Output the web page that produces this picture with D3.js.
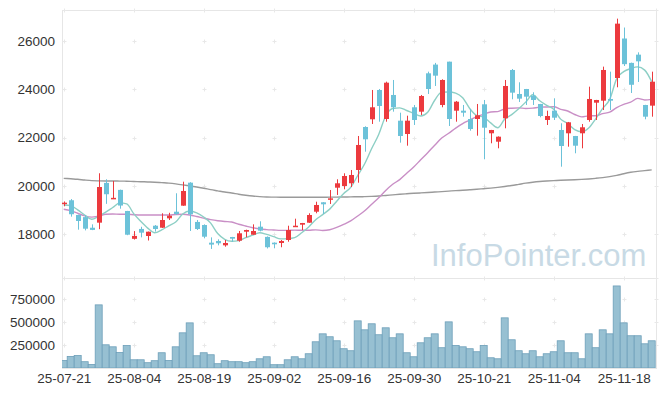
<!DOCTYPE html>
<html>
<head>
<meta charset="utf-8">
<script src="https://cdn.jsdelivr.net/npm/d3@7"></script>
<style>
  body { margin: 0; background: #fff; }
  svg { display: block; font-family: "Liberation Sans", Arial, sans-serif; }
</style>
</head>
<body>
<div id="chart"></div>
<script>
// daily candles, 25-07-21 .. 25-11-24 (85 trading days)
var opens = [19250,19400,18790,18700,18260,18470,20120,19470,19830,18955,
  17800,18210,17917,18344,18261,18650,18925,19175,20130,18500,
  18373,17640,17710,17530,17875,17722,18095,17970,18303,17880,
  17640,17627,17751,18303,18386,18469,18925,19316,19440,19921,
  19992,20104,20656,22440,22760,23976,22772,23769,22702,22150,
  23258,23076,24668,25030,23354,25151,23117,23117,22772,22772,
  23382,22179,21830,22801,24806,23810,24017,23740,23395,22731,
  23117,22316,22179,22067,22179,22731,23449,23532,23603,24474,
  26112,25100,25442,23353,23326];
var highs = [19350,19450,18800,18780,18400,20520,20270,20200,19840,18960,
  18120,18300,18100,18373,18860,18880,19690,20170,20150,18580,
  18400,17860,17780,17750,17880,18125,18180,18400,18527,17900,
  17650,17750,18344,18635,18460,18860,19340,19320,19826,20270,
  20519,20656,22067,22470,23976,24017,24321,24391,23034,22910,
  23354,23769,24736,25100,24420,25151,23520,23354,23188,23395,
  23561,22320,22050,24391,24848,24295,24020,23880,23400,23117,
  23631,22594,22650,22070,22565,24113,23565,24945,24736,26936,
  26568,25110,25538,23360,24736];
var lows = [19150,18720,18180,18150,18160,18200,19250,19450,19050,17950,
  17770,17860,17730,18100,18250,18580,18788,19170,18125,18166,
  17820,17380,17530,17473,17680,17680,17863,17965,18110,17400,
  17406,17450,17680,18290,18166,18460,18860,18830,19245,19620,
  19855,19950,20129,21415,22565,22660,22660,23076,21790,21665,
  22524,22939,23810,24142,23258,22481,22660,22868,22287,22080,
  21100,21764,21556,22386,23590,23478,23353,23353,22843,22523,
  22731,20793,21623,21349,21556,22660,22731,23146,23146,24088,
  24971,23852,24309,22760,22868];
var closes = [19300,18820,18540,18220,18170,19950,19650,19500,19180,17970,
  17920,18055,18095,18207,18581,18760,18830,19785,18817,18207,
  17888,17560,17614,17627,17805,18029,18166,18125,18137,17450,
  17573,17710,18166,18344,18456,18788,19204,19232,19480,20104,
  20407,20449,21694,21930,23258,23312,24279,23258,22067,22702,
  22731,23727,24017,24570,24391,22772,23490,23034,22357,22926,
  22411,22316,22038,24142,23865,23616,23699,23561,22897,22897,
  22826,21652,22635,21664,22428,23603,23561,24806,23532,26729,
  25047,24192,25165,22868,24320];
var volumes = [83000,127000,137000,69000,39000,691000,254000,232000,170000,247000,
  90000,90000,58000,80000,167000,83000,232000,385000,494000,134000,
  167000,145000,47000,80000,69000,69000,58000,69000,101000,123000,
  36000,36000,90000,123000,101000,156000,287000,374000,342000,298000,
  211000,189000,516000,418000,484000,364000,440000,331000,374000,167000,
  123000,276000,331000,374000,222000,505000,247000,232000,211000,178000,
  247000,112000,101000,549000,309000,189000,156000,189000,123000,156000,
  178000,298000,167000,167000,101000,374000,222000,418000,374000,898000,
  494000,353000,353000,265000,298000];

// moving averages before enough closes exist inside the window
var ma5Lead = [19204,19175,19000,18790];
var ma20Lead = [19025,18967,18860,18750,18700,18747,18817,18830,18817,18817,
  18800,18790,18790,18790,18790,18790,18810,18817,18790];
// long (120 day) average
var ma120 = [20310,20290,20270,20240,20215,20205,20200,20200,20195,20190,
  20180,20170,20160,20150,20130,20110,20080,20040,19995,19950,
  19900,19840,19790,19740,19700,19650,19610,19575,19550,19535,
  19530,19525,19525,19525,19525,19525,19525,19525,19530,19530,
  19535,19540,19545,19550,19560,19575,19600,19625,19650,19670,
  19690,19705,19720,19740,19760,19780,19800,19815,19835,19855,
  19880,19905,19935,19970,20010,20060,20110,20150,20180,20200,
  20215,20230,20240,20250,20265,20285,20310,20340,20380,20430,
  20500,20560,20600,20630,20660];

var tickIdx = [0,10,20,30,40,50,60,70,80];
var tickLabels = ["25-07-21","25-08-04","25-08-19","25-09-02","25-09-16","25-09-30","25-10-21","25-11-04","25-11-18"];
var priceTicks = [18000,20000,22000,24000,26000];
var volTicks = [250000,500000,750000];

var width = 665, height = 396;
var plotLeft = 62, plotRight = 656, plotTop = 10, priceBottom = 278, volBottom = 368;

var svg = d3.select("#chart").append("svg")
  .attr("width", width)
  .attr("height", height);

var x = d3.scaleLinear().domain([0, 84]).range([63.7, 651.7]);
var y = d3.scaleLinear().domain([16174, 27295]).range([priceBottom, plotTop]);
var yv = d3.scaleLinear().domain([0, 985000]).range([volBottom, priceBottom]);

function movingAvg(n, lead) {
  return closes.map(function(c, i) {
    if (i < n - 1) return lead[i];
    return d3.mean(closes.slice(i - n + 1, i + 1));
  });
}
var ma5 = movingAvg(5, ma5Lead);
var ma20 = movingAvg(20, ma20Lead);

// panel borders
svg.append("rect")
  .attr("x", plotLeft + 0.5).attr("y", plotTop + 0.5)
  .attr("width", plotRight - plotLeft).attr("height", priceBottom - plotTop)
  .attr("fill", "none").attr("stroke", "#e6e6e6");
svg.append("rect")
  .attr("x", plotLeft + 0.5).attr("y", priceBottom + 0.5)
  .attr("width", plotRight - plotLeft).attr("height", volBottom - priceBottom)
  .attr("fill", "none").attr("stroke", "#e6e6e6");

// little + marks where the grid would cross
var crossX = tickIdx.map(function(i) { return x(i); }).concat([plotRight]);
var crossY = [plotTop].concat(priceTicks.map(function(v) { return y(v); }))
  .concat(volTicks.map(function(v) { return yv(v); })).concat([priceBottom]);
var crosses = [];
crossX.forEach(function(cx) { crossY.forEach(function(cy) { crosses.push([cx, cy]); }); });
var cg = svg.append("g").attr("stroke", "#e8e8e8").attr("stroke-width", 1);
cg.selectAll("path").data(crosses).enter().append("path")
  .attr("d", function(d) {
    var cx = Math.round(d[0]) + 0.5, cy = Math.round(d[1]) + 0.5;
    return "M" + (cx - 2) + "," + cy + "H" + (cx + 2) + "M" + cx + "," + (cy - 2) + "V" + (cy + 2);
  });

// watermark
svg.append("text")
  .attr("x", 431).attr("y", 266)
  .attr("fill", "#c8dae5")
  .style("font-size", "31px")
  .text("InfoPointer.com");

svg.append("clipPath").attr("id", "clipVol")
  .append("rect").attr("x", plotLeft).attr("y", priceBottom)
  .attr("width", plotRight - plotLeft).attr("height", volBottom - priceBottom);

// volume bars
svg.append("g").attr("clip-path", "url(#clipVol)")
  .selectAll("rect").data(volumes).enter().append("rect")
  .attr("x", function(d, i) { return x(i) - 3.5; })
  .attr("y", function(d) { return yv(d); })
  .attr("width", 7)
  .attr("height", function(d) { return volBottom - yv(d); })
  .attr("fill", "#97c0d2")
  .attr("stroke", "#6d9fb9")
  .attr("stroke-width", 0.8);

// moving averages
function drawLine(vals, color) {
  var line = d3.line()
    .x(function(d, i) { return x(i); })
    .y(function(d) { return y(d); })
    .curve(d3.curveMonotoneX);
  svg.append("path")
    .datum(vals)
    .attr("d", line)
    .attr("fill", "none")
    .attr("stroke", color)
    .attr("stroke-width", 1.4);
}
drawLine(ma120, "#9a9a9a");
drawLine(ma20, "#c98fc6");
drawLine(ma5, "#8dcfc5");

// candles
var up = "#ec3a3e", down = "#6cc2d9";
var candles = svg.append("g").selectAll("g").data(closes).enter().append("g");
candles.append("line")
  .attr("x1", function(d, i) { return Math.round(x(i)) + 0.5; })
  .attr("x2", function(d, i) { return Math.round(x(i)) + 0.5; })
  .attr("y1", function(d, i) { return y(highs[i]); })
  .attr("y2", function(d, i) { return y(lows[i]); })
  .attr("stroke", function(d, i) { return d >= opens[i] ? up : down; })
  .attr("stroke-width", 1);
candles.append("rect")
  .attr("x", function(d, i) { return Math.round(x(i)) - 2; })
  .attr("width", 5)
  .attr("y", function(d, i) { return y(Math.max(d, opens[i])); })
  .attr("height", function(d, i) { return Math.max(1.5, Math.abs(y(d) - y(opens[i]))); })
  .attr("fill", function(d, i) { return d >= opens[i] ? up : down; });

// axes
var yAxis = svg.append("g")
  .attr("transform", "translate(" + plotLeft + ",0)")
  .call(d3.axisLeft(y).tickValues(priceTicks).tickSize(0).tickPadding(7).tickFormat(d3.format("d")));
var vAxis = svg.append("g")
  .attr("transform", "translate(" + plotLeft + ",0)")
  .call(d3.axisLeft(yv).tickValues(volTicks).tickSize(0).tickPadding(7).tickFormat(d3.format("d")));
var xAxis = svg.append("g")
  .attr("transform", "translate(0," + volBottom + ")")
  .call(d3.axisBottom(x).tickValues(tickIdx).tickSize(0).tickPadding(5)
    .tickFormat(function(d, i) { return tickLabels[i]; }));

[yAxis, vAxis, xAxis].forEach(function(a) {
  a.select(".domain").remove();
  a.selectAll("text")
    .attr("fill", "#333")
    .style("font-size", "13.5px")
    .style("font-family", "'Liberation Sans', Arial, sans-serif");
});
</script>
</body>
</html>
